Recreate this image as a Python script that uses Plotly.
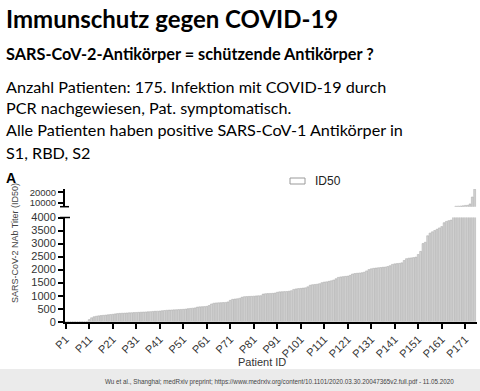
import plotly.graph_objects as go

W, H = 480, 391

# ---------------- data ----------------
patient_ids = [f"P{i}" for i in range(1, 176)]
patient_num = list(range(1, 176))
id50_titers = [
    0, 0, 0, 0, 0, 0, 0, 0, 0, 0,                                   # P1-P10
    80, 150, 190, 210, 225, 235, 245, 255, 265, 275,                # P11-P20
    285, 300, 310, 320, 325, 330, 335, 340, 345, 350,               # P21-P30
    355, 360, 365, 370, 375, 380, 385, 395, 400, 405,               # P31-P40
    410, 420, 430, 440, 445, 450, 455, 460, 465, 470,               # P41-P50
    475, 485, 500, 510, 520, 530, 560, 570, 575, 580,               # P51-P60
    590, 620, 680, 710, 720, 725, 730, 735, 740, 760,               # P61-P70
    820, 860, 870, 880, 900, 940, 960, 965, 970, 975,               # P71-P80
    980, 990, 995, 1000, 1060, 1075, 1080, 1085, 1090, 1100,        # P81-P90
    1130, 1145, 1150, 1155, 1160, 1170, 1190, 1240, 1260, 1270,     # P91-P100
    1280, 1290, 1300, 1340, 1400, 1420, 1430, 1440, 1460, 1500,     # P101-P110
    1520, 1530, 1550, 1570, 1600, 1650, 1700, 1720, 1730, 1740,     # P111-P120
    1750, 1780, 1830, 1850, 1860, 1870, 1880, 1900, 1950, 2000,     # P121-P130
    2030, 2050, 2060, 2070, 2080, 2090, 2100, 2120, 2150, 2200,     # P131-P140
    2220, 2230, 2240, 2260, 2350, 2420, 2440, 2450, 2460, 2480,     # P141-P150
    2580, 2700, 3000, 3050, 3300, 3400, 3450, 3500, 3550, 3600,     # P151-P160
    3650, 3800, 3850, 3880, 3900, 5000, 6600, 6700, 6800, 7000,     # P161-P170
    7400, 7500, 8800, 15500, 23000,                                 # P171-P175
]
tick_patients = list(range(1, 176, 10))
tick_labels = [f"P{i}" for i in tick_patients]
lower_ticks = [0, 500, 1000, 1500, 2000, 2500, 3000, 3500, 4000]
upper_ticks = [10000, 20000]
upper_tick_labels = ["10000", "20000"]
series_name = "ID50"


def fx(p):
    return p / W


def fy(p):
    return 1 - p / H


bar_style = dict(color="#d2d2d2", line=dict(color="#a9a9a9", width=0.5))

fig = go.Figure()
fig.add_trace(go.Bar(x=patient_num, y=id50_titers, marker=bar_style,
                     xaxis="x", yaxis="y", name=series_name, showlegend=False,
                     hovertext=patient_ids))
fig.add_trace(go.Bar(x=patient_num, y=id50_titers, marker=bar_style,
                     xaxis="x2", yaxis="y2", name=series_name, showlegend=False,
                     hovertext=patient_ids))

axis_common = dict(showgrid=False, zeroline=False, showline=True, linecolor="black",
                   linewidth=2, ticks="outside", ticklen=5, tickwidth=1.5, automargin=False,
                   tickcolor="black")
tick_font = dict(family="Liberation Sans", size=11, color="#333")
upper_tick_font = dict(family="Liberation Sans", size=9.5, color="#333")

x_dom = [fx(65), fx(477)]
x_rng = [0.7, 176]

fig.update_layout(
    width=W, height=H,
    margin=dict(l=0, r=0, t=0, b=0, pad=0),
    paper_bgcolor="white", plot_bgcolor="white",
    bargap=0.2,
    showlegend=False,
    xaxis=dict(domain=x_dom, range=x_rng, tickmode="array", tickvals=tick_patients,
               ticktext=tick_labels, anchor="y", tickfont=tick_font, **axis_common),
    yaxis=dict(domain=[fy(321.7), fy(217.5)], range=[0, 4000], tickmode="array",
               tickvals=lower_ticks, anchor="x", tickfont=tick_font, **axis_common),
    xaxis2=dict(domain=x_dom, range=x_rng, matches="x", visible=False, anchor="y2",
                automargin=False),
    yaxis2=dict(domain=[fy(206.7), fy(189)], range=[6150, 23200], tickmode="array",
                tickvals=upper_ticks, ticktext=upper_tick_labels, anchor="x2",
                tickfont=upper_tick_font, **axis_common),
)
fig.update_xaxes(tickangle=-45, selector=dict(anchor="y"))

shapes = [
    # break caps on the y axis
    dict(type="line", xref="paper", yref="paper", x0=fx(60), x1=fx(70),
         y0=fy(217.5), y1=fy(217.5), line=dict(color="black", width=1.5)),
    dict(type="line", xref="paper", yref="paper", x0=fx(60), x1=fx(69),
         y0=fy(206.7), y1=fy(206.7), line=dict(color="black", width=1.5)),
    # legend swatch
    dict(type="rect", xref="paper", yref="paper", x0=fx(290), x1=fx(305),
         y0=fy(184), y1=fy(178), line=dict(color="#9a9a9a", width=1), fillcolor="white"),
    # footer band
    dict(type="rect", xref="paper", yref="paper", x0=0, x1=1, y0=0, y1=fy(369),
         line=dict(width=0), fillcolor="#ebebeb", layer="below"),
]
fig.update_layout(shapes=shapes)

title_font = "Lato"
ann = []


def text(x, y, s, size, bold=False, color="black", family=title_font, **kw):
    ann.append(dict(xref="paper", yref="paper", x=fx(x), y=fy(y), text=(f"<b>{s}</b>" if bold else s),
                    showarrow=False, xanchor=kw.pop("xanchor", "left"), yanchor=kw.pop("yanchor", "middle"),
                    font=dict(family=family, size=size, color=color), **kw))


text(4, 19, "Immunschutz gegen COVID-19", 24, bold=True)
text(4, 54, "SARS-CoV-2-Antikörper = schützende Antikörper ?", 16.3, bold=True)
text(4, 86, "Anzahl Patienten: 175. Infektion mit COVID-19 durch", 16.2)
text(4, 108, "PCR nachgewiesen, Pat. symptomatisch.", 16.2)
text(4, 130, "Alle Patienten haben positive SARS-CoV-1 Antikörper in", 16.2)
text(4, 152, "S1, RBD, S2", 16.2)

text(4, 178, "A", 14, bold=True, family="Liberation Sans")
text(313, 181, series_name, 12, family="Liberation Sans", color="#222")
text(262, 362, "Patient ID", 11, family="Liberation Sans", color="#333", xanchor="center")
text(15, 243, "SARS-CoV-2 NAb Titer (ID50)", 9, family="Liberation Sans", color="#444",
     xanchor="center", textangle=-90)
text(279, 382, "Wu et al., Shanghai; medRxiv preprint; https://www.medrxiv.org/content/10.1101/2020.03.30.20047365v2.full.pdf - 11.05.2020",
     6.3, family="Liberation Sans", color="#444", xanchor="center")

fig.update_layout(annotations=ann)

fig.write_html("out.html", config=dict(displayModeBar=False),
               post_script="document.body.style.margin='0px';document.body.style.overflow='hidden';")
